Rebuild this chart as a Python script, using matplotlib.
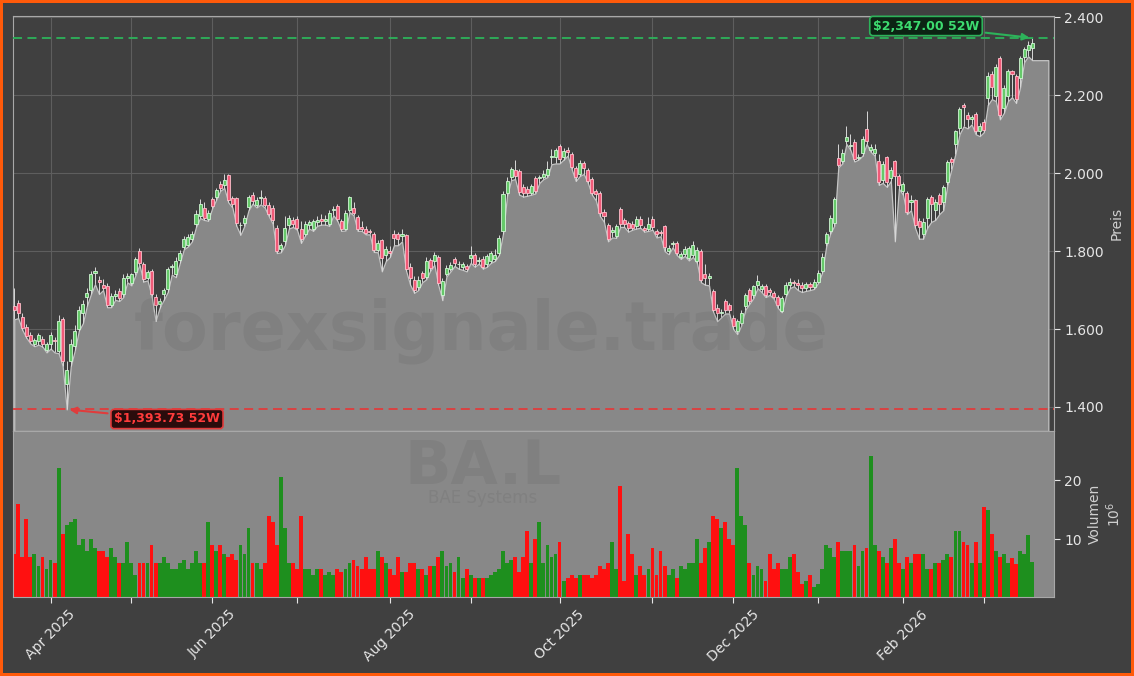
import numpy as np
import pandas as pd
import matplotlib
matplotlib.use("Agg")
import matplotlib.pyplot as plt
from matplotlib.ticker import FuncFormatter, FixedLocator

# --- Daten -------------------------------------------------------------
symbol = "BA.L"
company = "BAE Systems"
watermark = "forexsignale.trade"
start_date = "2025-03-19"
end_date = "2026-03-18"
holidays = ["2025-04-18", "2025-04-21", "2025-05-05", "2025-05-26",
            "2025-08-25", "2025-12-25", "2025-12-26", "2026-01-01"]

opens = [1660, 1668, 1631, 1606, 1586, 1561, 1569, 1575, 1545, 1561, 1572, 1543, 1625, 1458, 1518, 1556, 1600, 1640, 1681, 1700,
         1745, 1725, 1713, 1710, 1663, 1685, 1698, 1689, 1732, 1719, 1746, 1800, 1766, 1732, 1749, 1681, 1665, 1689, 1702, 1760,
         1740, 1778, 1810, 1815, 1830, 1870, 1890, 1910, 1882, 1933, 1939, 1973, 1970, 1995, 1936, 1936, 1866, 1873, 1912, 1944,
         1919, 1937, 1936, 1919, 1911, 1860, 1805, 1826, 1866, 1880, 1882, 1858, 1845, 1868, 1856, 1875, 1883, 1876, 1870, 1905,
         1916, 1877, 1858, 1905, 1910, 1888, 1863, 1858, 1850, 1845, 1804, 1828, 1790, 1800, 1843, 1843, 1840, 1841, 1760, 1725,
         1707, 1744, 1733, 1777, 1774, 1785, 1688, 1740, 1753, 1779, 1766, 1759, 1761, 1783, 1790, 1774, 1781, 1766, 1775, 1780,
         1796, 1852, 1950, 1990, 2008, 2006, 1965, 1959, 1950, 1987, 1987, 1991, 1995, 2042, 2042, 2070, 2042, 2059, 2049, 2013,
         1999, 2026, 2009, 1985, 1955, 1950, 1900, 1867, 1848, 1840, 1909, 1879, 1872, 1870, 1864, 1883, 1860, 1858, 1882, 1851,
         1847, 1864, 1800, 1818, 1821, 1785, 1793, 1783, 1790, 1774, 1800, 1740, 1730, 1697, 1655, 1640, 1673, 1661, 1628, 1596,
         1615, 1658, 1699, 1688, 1714, 1702, 1710, 1700, 1693, 1682, 1647, 1689, 1712, 1719, 1718, 1712, 1705, 1715, 1708, 1722,
         1750, 1820, 1851, 1873, 2038, 2031, 2082, 2070, 2081, 2040, 2053, 2114, 2060, 2053, 2031, 1983, 2041, 1987, 2031, 1993,
         1954, 1950, 1925, 1930, 1877, 1845, 1885, 1940, 1905, 1943, 1925, 1978, 2037, 2075, 2116, 2175, 2149, 2140, 2151, 2107,
         2132, 2193, 2254, 2197, 2296, 2168, 2197, 2263, 2250, 2245, 2298, 2316, 2320]
highs = [1706, 1675, 1640, 1612, 1592, 1578, 1590, 1582, 1566, 1592, 1580, 1635, 1632, 1518, 1575, 1610, 1660, 1675, 1705, 1748,
         1760, 1735, 1728, 1718, 1692, 1700, 1705, 1740, 1745, 1745, 1785, 1807, 1772, 1752, 1755, 1690, 1680, 1705, 1760, 1768,
         1785, 1802, 1838, 1845, 1852, 1905, 1935, 1925, 1905, 1940, 1962, 1980, 1997, 1999, 1942, 1940, 1875, 1892, 1945, 1952,
         1938, 1957, 1942, 1925, 1918, 1866, 1822, 1890, 1892, 1888, 1890, 1877, 1878, 1880, 1882, 1890, 1895, 1893, 1905, 1916,
         1920, 1882, 1905, 1942, 1925, 1893, 1878, 1865, 1856, 1850, 1828, 1832, 1813, 1813, 1855, 1850, 1858, 1845, 1770, 1735,
         1735, 1750, 1785, 1783, 1797, 1790, 1730, 1765, 1772, 1785, 1775, 1773, 1768, 1813, 1795, 1785, 1788, 1792, 1800, 1805,
         1842, 1955, 1990, 2017, 2033, 2012, 1972, 1968, 1972, 1992, 1996, 2008, 2030, 2062, 2065, 2075, 2064, 2066, 2055, 2018,
         2035, 2030, 2014, 1990, 1960, 1955, 1907, 1872, 1862, 1870, 1912, 1885, 1878, 1877, 1890, 1890, 1865, 1888, 1890, 1856,
         1853, 1868, 1815, 1826, 1825, 1798, 1812, 1812, 1825, 1810, 1805, 1768, 1745, 1702, 1665, 1652, 1678, 1667, 1635, 1627,
         1648, 1692, 1705, 1712, 1738, 1715, 1716, 1705, 1698, 1688, 1686, 1720, 1730, 1725, 1728, 1720, 1722, 1722, 1728, 1752,
         1795, 1850, 1892, 1940, 2075, 2062, 2120, 2100, 2088, 2050, 2095, 2160, 2075, 2075, 2050, 2030, 2045, 2015, 2035, 1998,
         1978, 1955, 1945, 1935, 1885, 1885, 1940, 1945, 1935, 1948, 1970, 2035, 2042, 2112, 2170, 2180, 2156, 2150, 2158, 2130,
         2140, 2260, 2262, 2280, 2300, 2225, 2268, 2265, 2255, 2300, 2325, 2340, 2347]
lows = [1625, 1628, 1598, 1578, 1563, 1556, 1560, 1555, 1540, 1550, 1540, 1538, 1505, 1393.73, 1505, 1545, 1596, 1615, 1660, 1690,
        1715, 1690, 1700, 1656, 1656, 1675, 1672, 1682, 1720, 1712, 1738, 1765, 1722, 1725, 1685, 1621, 1655, 1675, 1695, 1740,
        1733, 1770, 1805, 1812, 1825, 1862, 1885, 1880, 1878, 1910, 1932, 1955, 1962, 1925, 1912, 1865, 1842, 1865, 1905, 1922,
        1912, 1920, 1912, 1890, 1870, 1795, 1797, 1815, 1858, 1862, 1855, 1821, 1840, 1858, 1852, 1865, 1868, 1868, 1865, 1892,
        1878, 1852, 1853, 1900, 1892, 1852, 1852, 1843, 1843, 1798, 1797, 1748, 1775, 1785, 1815, 1815, 1825, 1750, 1714, 1693,
        1700, 1720, 1728, 1750, 1765, 1712, 1674, 1735, 1748, 1762, 1755, 1752, 1748, 1770, 1760, 1768, 1755, 1760, 1770, 1775,
        1790, 1845, 1942, 1982, 1985, 1945, 1940, 1942, 1945, 1948, 1975, 1985, 1990, 2023, 2025, 2025, 2035, 2045, 2010, 1980,
        1993, 1998, 1975, 1945, 1930, 1890, 1875, 1825, 1835, 1834, 1862, 1862, 1850, 1855, 1858, 1860, 1850, 1852, 1855, 1835,
        1838, 1800, 1792, 1810, 1790, 1780, 1788, 1776, 1785, 1770, 1720, 1714, 1712, 1645, 1620, 1630, 1640, 1640, 1600, 1587,
        1610, 1650, 1665, 1680, 1705, 1695, 1682, 1688, 1678, 1655, 1643, 1684, 1705, 1710, 1700, 1695, 1698, 1700, 1703, 1718,
        1745, 1812, 1845, 1865, 2015, 2025, 2075, 2060, 2030, 2035, 2045, 2075, 2055, 2045, 1970, 1975, 1965, 1980, 1825, 1960,
        1945, 1895, 1905, 1860, 1832, 1832, 1860, 1875, 1880, 1895, 1905, 1970, 2010, 2050, 2100, 2120, 2115, 2125, 2100, 2095,
        2105, 2175, 2190, 2185, 2138, 2155, 2185, 2195, 2180, 2220, 2285, 2300, 2290]
closes = [1650, 1642, 1603, 1582, 1569, 1573, 1585, 1562, 1561, 1586, 1570, 1621, 1518, 1496, 1561, 1595, 1650, 1665, 1693, 1740,
          1750, 1720, 1705, 1663, 1685, 1690, 1679, 1730, 1735, 1740, 1779, 1770, 1728, 1746, 1689, 1663, 1672, 1699, 1753, 1762,
          1775, 1795, 1830, 1835, 1845, 1895, 1920, 1885, 1899, 1916, 1956, 1961, 1982, 1931, 1920, 1871, 1868, 1886, 1939, 1929,
          1931, 1938, 1919, 1896, 1879, 1800, 1815, 1860, 1885, 1870, 1860, 1830, 1870, 1875, 1876, 1880, 1876, 1882, 1899, 1908,
          1882, 1856, 1899, 1939, 1899, 1858, 1858, 1847, 1849, 1804, 1820, 1783, 1805, 1795, 1834, 1830, 1845, 1755, 1730, 1700,
          1727, 1731, 1774, 1757, 1789, 1718, 1723, 1757, 1764, 1770, 1766, 1767, 1755, 1790, 1766, 1777, 1760, 1787, 1796, 1790,
          1834, 1946, 1980, 2012, 1993, 1952, 1948, 1948, 1967, 1955, 1991, 1999, 2010, 2044, 2059, 2036, 2058, 2054, 2015, 1991,
          2027, 2013, 1980, 1950, 1946, 1899, 1890, 1830, 1855, 1865, 1869, 1870, 1860, 1860, 1882, 1867, 1855, 1869, 1863, 1843,
          1846, 1810, 1809, 1820, 1796, 1793, 1806, 1807, 1815, 1804, 1727, 1730, 1736, 1650, 1640, 1645, 1650, 1648, 1607, 1620,
          1641, 1687, 1671, 1710, 1724, 1710, 1688, 1695, 1682, 1661, 1680, 1714, 1721, 1718, 1712, 1705, 1715, 1708, 1720, 1745,
          1785, 1845, 1886, 1934, 2022, 2051, 2094, 2073, 2037, 2041, 2088, 2083, 2066, 2061, 1978, 2023, 1978, 2009, 1993, 1969,
          1972, 1900, 1932, 1868, 1862, 1875, 1935, 1921, 1925, 1921, 1965, 2028, 2028, 2107, 2165, 2170, 2138, 2143, 2107, 2120,
          2110, 2250, 2221, 2272, 2149, 2219, 2263, 2254, 2190, 2295, 2318, 2330, 2333]
volumes_m = [7.5, 16, 7, 13.5, 7, 7.5, 5.5, 7, 5, 6.5, 6,
             22, 11, 12.5, 13, 13.5, 9, 10, 8, 10, 8.5,
             8, 8, 7, 8.5, 7, 6, 6, 9.5, 6, 4,
             6, 6, 6, 9, 6, 6, 7, 6, 5, 5,
             6, 6.5, 5, 6, 8, 6, 6, 13, 9, 8,
             9, 7.5, 7, 7.5, 6.5, 9, 7.5, 12, 6, 6,
             5, 6, 14, 13, 9, 20.5, 12, 6, 6, 5,
             14, 5, 5, 4, 5, 5, 4, 4.5, 4, 5,
             4.5, 5, 6, 6.5, 5.5, 5, 7, 5, 5, 8,
             7, 6, 5, 4, 7, 4.5, 4.5, 6, 6, 5,
             5, 4, 5.5, 5.5, 7, 8, 5.5, 6, 4.5, 7,
             3.5, 5, 4, 3.5, 3.5, 3.5, 3.5, 4, 4.5,
             5, 8, 6, 6.5, 7, 4.5, 7, 11.5, 6, 10,
             13, 6, 9, 7, 7.5, 9.5, 3, 3.5, 4, 3.5,
             4, 4, 4, 3.5, 4, 5.5, 5, 6, 9.5, 5,
             19, 3, 11, 7.5, 4, 5.5, 4, 5, 8.5, 4,
             8, 5.5, 4, 5, 3.5, 5.5, 5, 6, 6, 10,
             6, 8.5, 9.5, 14, 13.5, 12, 13, 10, 9, 22,
             14, 12.5, 6, 4, 5.5, 5, 3, 7.5, 5, 6,
             5, 5, 7, 7.5, 4.5, 2.5, 3, 4, 2, 2.5,
             5, 9, 8.5, 7, 9.5, 8, 8, 8, 9, 5.5,
             8, 8.5, 24, 9, 8, 7, 6, 8.5, 10, 6,
             5, 7, 6, 7.5, 7.5, 7.5, 5, 5, 6, 6,
             6.5, 7.5, 7, 11.5, 11.5, 9.5, 9, 6, 9.5, 6,
             15.5, 15, 11, 8, 7, 7.5,
             6.1, 6.8, 5.8, 8.0, 7.6, 10.7, 6.2]

high_52w = 2347.00
low_52w = 1393.73
price_ticks = [1400, 1600, 1800, 2000, 2200, 2400]
volume_ticks = [10, 20]

# --- Aufbereitung ------------------------------------------------------
dates = pd.bdate_range(start_date, end_date)
dates = dates[~dates.isin(pd.to_datetime(holidays))]
n = len(dates)
x = np.arange(n)
o = np.array(opens, float)
h = np.array(highs, float)
l = np.array(lows, float)
c = np.array(closes, float)
v = np.array(volumes_m, float)
up = c >= o

# Monatsanfaenge (erster Handelstag) als Ticks, beschriftet jeden 2. Monat
month_pos = [i for i in range(1, n) if dates[i].month != dates[i - 1].month]
month_lbl = [dates[i].strftime("%b %Y") if dates[i].month % 2 == 0 else "" for i in month_pos]

BG = "#404040"
FILL = "#888888"
W, H = 1134, 676

fig = plt.figure(figsize=(W / 100, H / 100), dpi=100, facecolor=BG)
fig.patch.set_edgecolor("#ff5a0a")
fig.patch.set_linewidth(3)

ax = fig.add_axes([13 / W, 1 - 431 / H, 1041 / W, 415.3 / H])
axv = fig.add_axes([13 / W, 1 - 597 / H, 1041 / W, 166 / H], sharex=ax)

ymin, ymax = 1338.4, 2404.1
ax.set_facecolor(BG)
ax.set_ylim(ymin, ymax)
ax.set_axisbelow(True)
ax.grid(True, color="#5e5e5e", lw=0.8)

# Flaeche unter den Tiefs (verlaengert bis fast zum rechten Rand)
fx = np.append(x, n + 3)
fl = np.append(l, l[-1])
ax.fill_between(fx, fl, ymin, facecolor=FILL, edgecolor="#c4c4c4", lw=0.9, zorder=2)

# Kerzen
ax.vlines(x, l, h, color="#d8d8d8", lw=0.7, zorder=3)
body = np.maximum(np.abs(c - o), 2.0)
ax.bar(x[up], body[up], bottom=np.minimum(o, c)[up], width=0.75,
       color="#66c96a", edgecolor="#d2f7d6", lw=0.6, zorder=4)
ax.bar(x[~up], body[~up], bottom=np.minimum(o, c)[~up], width=0.75,
       color="#f05a78", edgecolor="#ffc0cc", lw=0.6, zorder=4)

# 52W Linien
ax.axhline(high_52w, color="#2db35a", ls=(0, (5, 3)), lw=1.3, zorder=5)
ax.axhline(low_52w, color="#e03c3c", ls=(0, (5, 3)), lw=1.3, zorder=5)

ih = int(np.argmax(h))
il = int(np.argmin(l))
ax.annotate("\\${:,.2f} 52W".format(high_52w), xy=(ih, high_52w), xycoords="data",
            xytext=(926, H - 26), textcoords="figure pixels",
            ha="center", va="center", fontsize=9, fontweight="bold", color="#3ddc70",
            bbox=dict(boxstyle="round,pad=0.25", fc="#0c2414", ec="#2db35a", lw=1.2),
            arrowprops=dict(arrowstyle="-|>", color="#2db35a", lw=1.5, mutation_scale=10),
            zorder=6)
ax.annotate("\\${:,.2f} 52W".format(low_52w), xy=(il, low_52w), xycoords="data",
            xytext=(167, H - 419), textcoords="figure pixels",
            ha="center", va="center", fontsize=9, fontweight="bold", color="#ff3b3b",
            bbox=dict(boxstyle="round,pad=0.25", fc="#2a0c0c", ec="#e03c3c", lw=1.2),
            arrowprops=dict(arrowstyle="-|>", color="#e03c3c", lw=1.5, mutation_scale=10),
            zorder=6)

# Achsen Preis
ax.yaxis.tick_right()
ax.yaxis.set_label_position("right")
ax.yaxis.set_major_locator(FixedLocator(price_ticks))
ax.yaxis.set_major_formatter(FuncFormatter(lambda val, pos: "{:,.0f}".format(val).replace(",", ".")))
ax.set_ylabel("Preis", color="#d0d0d0", fontsize=10, labelpad=4)
ax.tick_params(axis="y", colors="#e6e6e6", labelsize=10, length=4)
ax.tick_params(axis="x", bottom=False, labelbottom=False)
for sp in ax.spines.values():
    sp.set_color("#a8a8a8")

# Volumen
axv.set_facecolor(FILL)
vol_colors = np.where(up, "#1e8f1e", "#ff1010")
axv.bar(x, v, width=0.95, color=vol_colors, lw=0, zorder=2)
axv.set_ylim(0.3, 28.3)
axv.yaxis.tick_right()
axv.yaxis.set_label_position("right")
axv.yaxis.set_major_locator(FixedLocator(volume_ticks))
axv.set_ylabel("Volumen\n$10^{6}$", color="#d0d0d0", fontsize=10, labelpad=4)
axv.tick_params(axis="y", colors="#e6e6e6", labelsize=10, length=4)
for sp in axv.spines.values():
    sp.set_color("#a8a8a8")

axv.set_xticks(month_pos)
axv.set_xticklabels(month_lbl)
axv.tick_params(axis="x", colors="#e6e6e6", labelsize=10, length=4, labelrotation=45)
axv.set_xlim(-0.3, 257.4)

# Wasserzeichen
fig.text(481 / W, 1 - 331 / H, watermark, fontsize=48, fontweight="bold",
         color="black", alpha=0.06, ha="center", va="center")
fig.text(483 / W, 1 - 484 / H, symbol, fontsize=44, fontweight="bold",
         color="black", alpha=0.06, ha="center", va="baseline")
fig.text(483 / W, 1 - 489 / H, company, fontsize=12,
         color="black", alpha=0.06, ha="center", va="top")

fig.savefig("out.png", dpi=100, facecolor=fig.get_facecolor(), edgecolor=fig.get_edgecolor())
